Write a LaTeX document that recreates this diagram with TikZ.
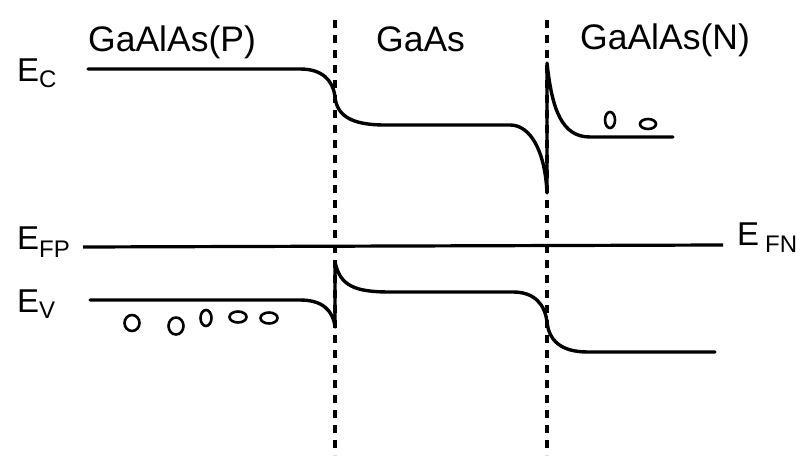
\documentclass[tikz,border=0pt]{standalone}
\usepackage{fontspec}
\setmainfont{Liberation Sans}
\begin{document}
\begin{tikzpicture}[x=1pt,y=-1pt,
  band/.style={line width=3.4pt,line join=round,line cap=round},
  fermi/.style={line width=3.2pt},
  iface/.style={line width=3.4pt,dash pattern=on 8pt off 7pt},
  carrier/.style={line width=2.6pt},
  region/.style={inner sep=0pt,anchor=base west,font=\fontsize{35.5}{35.5}\selectfont},
  elab/.style={inner sep=0pt,anchor=base west,font=\fontsize{33}{33}\selectfont},
  slab/.style={inner sep=0pt,anchor=base west,font=\fontsize{24}{24}\selectfont}]
\useasboundingbox (0,0) rectangle (808,462);
% interfaces
\coordinate (i1t) at (335,20); \coordinate (i1b) at (335,455);
\coordinate (i2t) at (547,20); \coordinate (i2b) at (547,455);
\draw[iface] (i1t) -- (i1b);
\draw[iface] (i2t) -- (i2b);
% region labels
\node[region] (rp) at (88,52) {GaAlAs(P)};
\node[region] (rg) at (376,52) {GaAs};
\node[region] (rn) at (580,50) {GaAlAs(N)};
% energy labels
\node[elab] (ec) at (17,82) {E};
\node[slab] (ecs) at (39,88) {C};
\node[elab] (efp) at (17,250) {E};
\node[slab] (efps) at (39,258) {FP};
\node[elab] (ev) at (17,312) {E};
\node[slab] (evs) at (39,318) {V};
\node[elab] (efn) at (737,246) {E};
\node[slab] (efns) at (765,253) {FN};
% conduction band
\draw[band] (88,69) -- (300,69) .. controls (322,69) and (333,80) .. (335,97)
  .. controls (337,115) and (350,125) .. (385,125) -- (510,125)
  .. controls (530,125) and (545,150) .. (547,193) -- (547,63)
  .. controls (552,110) and (562,137) .. (590,137) -- (673,137);
% Fermi level
\draw[fermi] (83,247) -- (723,245);
% valence band
\draw[band] (90,300) -- (300,300) .. controls (322,300) and (333,310) .. (335,327)
  -- (335,262) .. controls (340,286) and (355,292) .. (390,292) -- (513,292)
  .. controls (535,292) and (545,305) .. (547,322)
  .. controls (549,340) and (560,352) .. (588,352) -- (715,352);
% electrons
\draw[carrier] (610,120) ellipse [x radius=5, y radius=8];
\draw[carrier] (648,124) ellipse [x radius=8, y radius=5];
% holes
\draw[carrier] (132,323) ellipse [x radius=7.5, y radius=8];
\draw[carrier] (176,326) ellipse [x radius=7.5, y radius=8.5];
\draw[carrier] (206,318) ellipse [x radius=5.5, y radius=8];
\draw[carrier] (238,317) ellipse [x radius=8.5, y radius=5.5];
\draw[carrier] (269,318) ellipse [x radius=8.5, y radius=5.5];
\end{tikzpicture}
\end{document}
